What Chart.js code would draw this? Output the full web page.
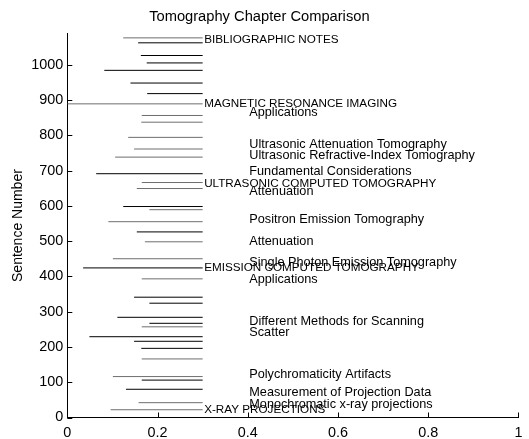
<!DOCTYPE html>
<html>
<head>
<meta charset="utf-8">
<script src="https://cdn.jsdelivr.net/npm/chart.js@4.4.1/dist/chart.umd.min.js"></script>
<style>html,body{margin:0;padding:0;background:#fff}canvas{display:block}</style>
</head>
<body>
<canvas id="c" width="529" height="439"></canvas>
<script>
// ---- data ----
const sentenceY = [1076, 1062, 1026, 1005, 984, 948, 918, 889, 856, 837, 794, 761, 738, 691, 666, 649, 598, 589, 555, 526, 498, 450, 424, 393, 341, 324, 284, 267, 257, 229, 216, 196, 166, 116, 106, 80, 42, 22];
const startX = [0.124, 0.157, 0.163, 0.176, 0.082, 0.140, 0.177, 0.0, 0.165, 0.164, 0.135, 0.148, 0.106, 0.064, 0.165, 0.154, 0.124, 0.182, 0.091, 0.154, 0.172, 0.101, 0.035, 0.165, 0.148, 0.182, 0.111, 0.182, 0.165, 0.049, 0.148, 0.164, 0.165, 0.101, 0.165, 0.130, 0.158, 0.096];
const group = ['g','b','b','b','b','b','b','g','g','g','g','g','g','b','g','g','b','g','g','b','g','g','b','g','b','b','b','b','g','b','b','b','g','g','b','b','g','g'];
const endX = 0.3;

const headingText = ['BIBLIOGRAPHIC NOTES', 'MAGNETIC RESONANCE IMAGING', 'ULTRASONIC COMPUTED TOMOGRAPHY', 'EMISSION COMPUTED TOMOGRAPHY', 'X-RAY PROJECTIONS'];
const headingY = [1071, 889, 662, 424, 21];
const headingX = 0.3;

const sectionText = ['Applications', 'Ultrasonic Attenuation Tomography', 'Ultrasonic Refractive-Index Tomography', 'Fundamental Considerations', 'Attenuation', 'Positron Emission Tomography', 'Attenuation', 'Single Photon Emission Tomography', 'Applications', 'Different Methods for Scanning', 'Scatter', 'Polychromaticity Artifacts', 'Measurement of Projection Data', 'Monochromatic x-ray projections'];
const sectionY = [864, 773, 742, 697, 640, 560, 499, 439, 390, 272, 242, 123, 72, 38];
const sectionX = 0.4;

const xTicks = [0, 0.2, 0.4, 0.6, 0.8, 1];
const yTicks = [0, 100, 200, 300, 400, 500, 600, 700, 800, 900, 1000];

// ---- styles ----
const colors = { b: '#000000', g: '#6e6e6e' };
const FONT = 'Liberation Sans, Arial, Helvetica, sans-serif';

const datasets = sentenceY.map((y, i) => ({
  data: [{ x: startX[i], y: y }, { x: endX, y: y }],
  borderColor: colors[group[i]],
  borderWidth: 1,
  pointRadius: 0,
  fill: false,
  tension: 0
}));

const tickMarks = {
  id: 'tickMarks',
  afterDraw(chart) {
    const { ctx, scales: { x, y }, chartArea: a } = chart;
    ctx.save();
    ctx.strokeStyle = '#000';
    ctx.lineWidth = 1;
    ctx.beginPath();
    xTicks.forEach(v => {
      const px = Math.round(x.getPixelForValue(v)) + 0.5;
      ctx.moveTo(px, a.bottom);
      ctx.lineTo(px, a.bottom - 5);
    });
    yTicks.forEach(v => {
      const py = Math.round(y.getPixelForValue(v)) + 0.5;
      ctx.moveTo(a.left, py);
      ctx.lineTo(a.left + 5, py);
    });
    ctx.stroke();
    ctx.restore();
  }
};

const textLabels = {
  id: 'textLabels',
  afterDatasetsDraw(chart) {
    const { ctx, scales: { x, y } } = chart;
    ctx.save();
    ctx.fillStyle = '#000';
    ctx.textAlign = 'left';
    ctx.textBaseline = 'middle';
    ctx.font = '11.7px ' + FONT;
    headingText.forEach((t, i) => {
      ctx.fillText(t, x.getPixelForValue(headingX) + 1.5, y.getPixelForValue(headingY[i]));
    });
    ctx.font = '12.7px ' + FONT;
    sectionText.forEach((t, i) => {
      ctx.fillText(t, x.getPixelForValue(sectionX) + 1.5, y.getPixelForValue(sectionY[i]));
    });
    ctx.restore();
  }
};

new Chart(document.getElementById('c'), {
  type: 'line',
  data: { datasets },
  options: {
    responsive: false,
    animation: false,
    events: [],
    layout: { padding: { left: 0, right: 10.3, top: 0, bottom: 0 } },
    plugins: {
      legend: { display: false },
      tooltip: { enabled: false },
      title: {
        display: true,
        text: 'Tomography Chapter Comparison',
        color: '#000',
        font: { family: FONT, size: 14.7, weight: 'normal' },
        padding: { top: 8, bottom: 8 }
      }
    },
    scales: {
      x: {
        type: 'linear',
        min: 0,
        max: 1,
        afterBuildTicks(s) { s.ticks = xTicks.map(v => ({ value: v })); },
        ticks: {
          color: '#000',
          font: { family: FONT, size: 14.4 },
          padding: 6.5,
          maxRotation: 0,
          autoSkip: false,
          callback: v => String(v)
        },
        grid: { display: false, drawTicks: false },
        border: { display: true, color: '#000', width: 1 },
        afterFit(s) { s.height = 21.5; }
      },
      y: {
        type: 'linear',
        min: 0,
        max: 1088,
        afterBuildTicks(s) { s.ticks = yTicks.map(v => ({ value: v })); },
        ticks: {
          color: '#000',
          font: { family: FONT, size: 14.4 },
          padding: 4,
          autoSkip: false,
          callback: v => String(v)
        },
        title: {
          display: true,
          text: 'Sentence Number',
          color: '#000',
          font: { family: FONT, size: 14, weight: 'normal' },
          padding: { top: 10, bottom: 0 }
        },
        grid: { display: false, drawTicks: false },
        border: { display: true, color: '#000', width: 1 },
        afterFit(s) { s.width = 67.3; }
      }
    }
  },
  plugins: [textLabels, tickMarks]
});
</script>
</body>
</html>
